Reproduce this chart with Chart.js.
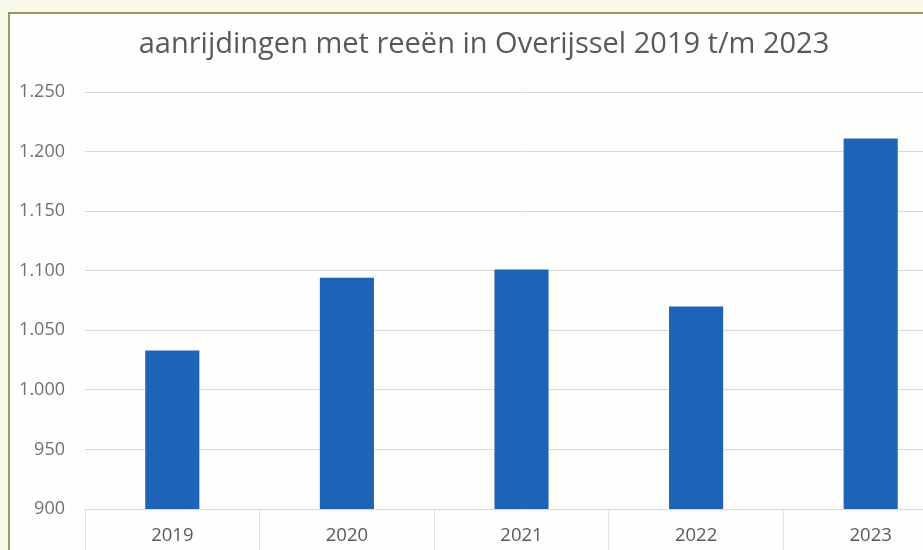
<!DOCTYPE html>
<html lang="nl">
<head>
<meta charset="utf-8">
<script src="https://cdn.jsdelivr.net/npm/chart.js@4"></script>
<style>
  html, body { margin: 0; padding: 0; width: 923px; height: 550px; overflow: hidden; background: #f8f8ea; }
  #frame { position: absolute; left: 8px; top: 12px; width: 1000px; height: 600px; border: 2px solid #9b9b5b; background: #fefefc; }
  #wrap { position: absolute; left: 0; top: 0; width: 958px; height: 550px; }
</style>
</head>
<body>
<div id="frame"></div>
<div id="wrap"><canvas id="chart"></canvas></div>
<script>
// --- Data ---
const years = ["2019", "2020", "2021", "2022", "2023"];
const collisions = [1033, 1094, 1101, 1070, 1211];
const yTicks = { min: 900, max: 1250, step: 50 };
const titleText = "aanrijdingen met reeën in Overijssel 2019 t/m 2023";

// Dutch thousands separator: 1250 -> "1.250"
function formatNL(v) {
  return String(v).replace(/\B(?=(\d{3})+(?!\d))/g, ".");
}

const ctx = document.getElementById("chart").getContext("2d");

new Chart(ctx, {
  type: "bar",
  data: {
    labels: years,
    datasets: [
      {
        data: collisions,
        backgroundColor: "#1f63b9",
        borderWidth: 0,
        categoryPercentage: 1,
        barPercentage: 0.31,
      },
    ],
  },
  options: {
    responsive: true,
    maintainAspectRatio: false,
    animation: false,
    layout: { padding: { top: 0, bottom: 0, left: 10, right: 0 } },
    plugins: {
      legend: { display: false },
      tooltip: { enabled: false },
      title: {
        display: true,
        text: titleText,
        color: "#595959",
        font: { family: "Open Sans", size: 29, weight: "normal" },
        padding: { top: 27.6, bottom: 29.6 },
      },
    },
    scales: {
      x: {
        grid: {
          offset: true,
          drawOnChartArea: false,
          drawTicks: true,
          tickLength: 41,
          color: "#e2e2e2",
        },
        border: { display: false },
        ticks: {
          color: "#595959",
          font: { family: "Open Sans", size: 18.5 },
          padding: -25,
        },
        afterFit: (s) => { s.height = 41; },
      },
      y: {
        min: yTicks.min,
        max: yTicks.max,
        grid: { color: "#d9d9d9", drawTicks: false },
        border: { display: false },
        ticks: {
          stepSize: yTicks.step,
          color: "#707070",
          font: { family: "Open Sans", size: 18 },
          padding: 20,
          callback: (v) => formatNL(v),
        },
        afterFit: (s) => { s.width = 75; },
      },
    },
  },
});
</script>
</body>
</html>
